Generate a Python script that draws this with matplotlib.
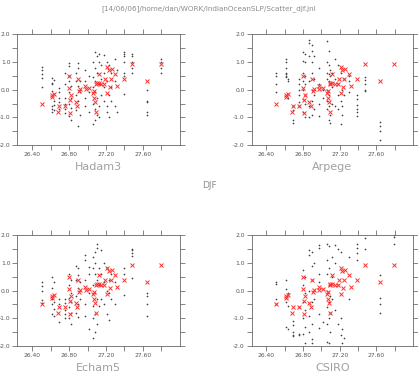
import numpy as np
import matplotlib
matplotlib.use("Agg")
import matplotlib.pyplot as plt

# observed DJF SST (x) vs SLP index (y) - same red crosses on every panel
obs_sst = [26.51, 26.62, 26.62, 26.64, 26.68, 26.69, 26.76, 26.80, 26.80, 26.81,
           26.82, 26.81, 26.87, 26.89, 26.90, 26.91, 26.92, 26.97, 26.98, 27.02,
           27.06, 27.07, 27.07, 27.08, 27.09, 27.09, 27.10, 27.12, 27.12, 27.15,
           27.18, 27.19, 27.21, 27.21, 27.23, 27.24, 27.25, 27.26, 27.30, 27.32,
           27.39, 27.48, 27.64, 27.79]
obs_slp = [-0.50, -0.19, -0.28, -0.16, -0.81, -0.58, -0.58, 0.48, 0.07, -0.85,
           -0.20, -0.37, -0.46, -0.58, 0.38, -0.06, 0.03, 0.12, 0.02, 0.05,
           -0.13, -0.05, -0.30, -0.45, -0.82, 0.19, 0.23, 0.25, 0.58, 0.22,
           0.21, 0.38, -0.12, 0.82, 0.72, 0.10, 0.38, 0.75, 0.56, 0.13,
           0.37, 0.92, 0.32, 0.92]

# model ensemble members, one list per SST column
col_sst = [26.51, 26.62, 26.64, 26.69, 26.76, 26.80, 26.82, 26.87, 26.90, 26.92,
           26.97, 27.02, 27.06, 27.08, 27.10, 27.12, 27.15, 27.18, 27.21, 27.23,
           27.25, 27.30, 27.32, 27.39, 27.48, 27.64, 27.79]

hadam3 = [[0.83, 0.7, 0.55, 0.42, 0.08], [0.42, 0.25, 0.2, -0.05, -0.6, -0.7, -0.8],
          [0.35, -0.4, -0.55, -0.75], [0.05, -0.1, -0.3, -0.45, -0.7],
          [0.6, 0.2, -0.3, -0.5, -0.7, -0.85], [0.95, 0.85, 0.5, 0.3, -0.1, -0.5, -0.95],
          [0.15, -0.3, -0.65, -1.1], [0.6, 0.3, -0.2, -0.75], [0.95, 0.8, 0.15, -0.4, -1.3],
          [0.3, -0.1, -0.9], [0.7, 0.3, -0.3, -0.6], [0.5, -0.1, -0.8],
          [1.0, 0.45, 0.1, -0.5, -1.25], [1.35, 0.8, 0.3, -0.1, -0.7, -1.1],
          [1.2, 0.6, -0.3, -0.9], [1.3, 1.0, 0.2, -0.6, -1.0], [0.9, 0.4, -0.2],
          [1.25, 0.6, 0.1, -0.4], [1.0, 0.3, -0.6, -0.8], [0.9, -0.2, -1.0],
          [0.6, 0.1, -0.4], [1.1, 0.3, -0.6], [0.7, -0.8],
          [1.35, 1.3, 1.2, 1.0, 0.6, 0.5, -0.15], [1.3, 1.2, 1.0, 0.8, 0.6],
          [0.0, -0.4, -0.45, -0.8, -0.9], [1.1, 1.0, 0.8, 0.6]]

arpege = [[0.6, 0.5, 0.2, -0.1], [1.1, 1.0, 0.8, 0.6, 0.55, 0.5, 0.45], [0.4, 0.3, -0.3],
          [-0.6, -0.75, -1.1, -1.2], [0.4, 0.2, 0.0, -0.2, -0.45, -0.6],
          [1.35, 1.05, 0.6, 0.3, 0.0, -0.35, -0.8], [1.3, 1.0, 0.5, 0.2, -0.2, -0.5, -1.0],
          [1.8, 1.7, 1.2, 0.3, -0.6, -1.0], [1.6, 1.4, 1.0, 0.6, 0.0, -0.4, -0.9],
          [1.2, 0.4, -0.2, -0.7], [0.8, 0.2, -0.5, -0.95], [0.0, -0.3],
          [1.75, 1.0, 0.6, 0.4, 0.0, -0.4, -0.7], [1.4, 0.9, 0.55, 0.3, -0.2, -0.6, -1.1],
          [0.7, 0.5, 0.2, -0.9, -1.2], [0.6, 0.1, -0.5], [1.1, 0.4, -0.6],
          [0.9, 0.2, -0.2, -0.7], [0.6, -0.4, -1.25], [0.0, -0.6, -0.9], [0.4, -0.2],
          [0.5, 0.3, -0.1], [], [-0.2, -0.35, -0.55, -0.7, -0.8, -0.95],
          [0.45, 0.35, 0.2, 0.0, -0.05], [-1.15, -1.3, -1.5, -1.8], []]

echam5 = [[0.3, 0.15, 0.0, -0.35, -0.45], [0.5, 0.1, -0.3, -0.5, -0.85],
          [0.3, -0.4, -0.65, -0.9], [-0.3, -0.5, -1.15], [-0.3, -0.45, -0.7, -0.85, -1.0],
          [0.6, 0.2, -0.25, -0.6, -1.0], [0.4, -0.1, -0.4, -0.8, -1.2],
          [0.9, 0.4, -0.2, -0.8], [0.8, 0.55, 0.1, -0.5, -0.95], [0.3, -0.3],
          [1.3, 1.1, 0.4, -0.5, -0.9], [0.85, 0.6, -0.1, -1.4],
          [1.2, 0.8, 0.2, -0.55, -1.0, -1.7], [1.4, 1.0, 0.6, -0.1, -0.85, -1.5],
          [1.7, 1.55, 0.4, -0.3, -1.2], [0.8, 0.2, -0.55], [1.45, 0.6, -0.3],
          [1.0, 0.3, -0.5], [0.8, 0.0, -0.85], [0.4, -0.1, -1.05], [0.6, -0.3],
          [0.3, -0.5], [], [0.8, 0.6, -0.15], [1.5, 1.45, 1.35, 1.25, 0.45],
          [-0.1, -0.2, -0.5, -0.9], []]

csiro = [[0.3, 0.25, -0.3, -0.5], [0.4, 0.05, -0.4, -1.3], [-0.1, -0.55, -1.4],
         [-1.1, -1.25, -1.5, -1.6, -1.65], [-0.6, -1.55, -1.6],
         [0.75, 0.2, -0.4, -1.0, -1.55], [0.5, -0.1, -0.7, -1.3, -1.9],
         [1.45, 1.3, 0.0, -0.9, -1.5], [1.4, 0.9, 0.4, -0.4, -1.2, -1.75, -1.9],
         [1.0, -0.3], [1.65, 1.55, 0.6, 0.3, -0.85, -1.35], [-1.15],
         [1.7, 1.1, 0.6, 0.0, -0.6, -1.2, -1.85], [1.6, 0.8, 0.2, -0.4, -1.0, -1.9],
         [-0.2, -0.8, -1.5], [1.2, 0.5, -0.3], [1.65, 1.0, -0.7], [1.5, 0.2, -1.2],
         [1.4, -1.0, -1.6], [-1.4, -1.9], [-1.7], [1.2, -0.3], [],
         [1.7, 1.55, 1.35, 1.1], [1.9, 1.5], [0.55, -0.25, -0.5, -0.8], [2.0, 1.95, 1.7]]

model_names = ["Hadam3", "Arpege", "Echam5", "CSIRO"]
model_data = [hadam3, arpege, echam5, csiro]

x_ticks = [26.4, 26.6, 26.8, 27.0, 27.2, 27.4, 27.6, 27.8]
x_ticklabels = ["26.40", "", "26.80", "", "27.20", "", "27.60", ""]
y_ticks = [-2.0, -1.5, -1.0, -0.5, 0.0, 0.5, 1.0, 1.5, 2.0]
y_ticklabels = ["-2.0", "", "-1.0", "", "0.0", "", "1.0", "", "2.0"]

header = "[14/06/06]/home/dan/WORK/IndianOceanSLP/Scatter_djf.jnl"
season = "DJF"

grey = "#8c8c8c"
axes_pos = [[0.0414, 0.611, 0.389, 0.297],
            [0.602, 0.611, 0.386, 0.297],
            [0.0414, 0.0724, 0.389, 0.297],
            [0.602, 0.0724, 0.386, 0.297]]

fig = plt.figure(figsize=(4.18, 3.73), dpi=100)

for pos, name, data in zip(axes_pos, model_names, model_data):
    ax = fig.add_axes(pos)

    xs = []
    ys = []
    for x, col in zip(col_sst, data):
        xs.extend([x] * len(col))
        ys.extend(col)
    ax.plot(xs, ys, linestyle="none", marker="+", markersize=1.6,
            markeredgewidth=0.45, color="#444444")
    ax.plot(obs_sst, obs_slp, linestyle="none", marker="x", markersize=3.0,
            markeredgewidth=0.7, color="#ff3030")

    ax.set_xlim(26.24, 28.0)
    ax.set_ylim(-2.0, 2.0)
    ax.set_xticks(x_ticks)
    ax.set_xticklabels(x_ticklabels)
    ax.set_yticks(y_ticks)
    ax.set_yticklabels(y_ticklabels)
    ax.tick_params(direction="out", length=3.5, width=0.5, colors="#555555",
                   labelsize=4.3, labelcolor="#555555", pad=1.5,
                   top=True, right=True)
    for s in ax.spines.values():
        s.set_linewidth(0.6)
        s.set_color("#666666")

    fig.text(pos[0] + pos[2] / 2, pos[1] - 0.046, name, ha="center", va="top",
             fontsize=8, color="#a0a0a0")

fig.text(0.5, 0.504, season, ha="center", va="center", fontsize=6.5, color=grey)
fig.text(0.5, 0.985, header, ha="center", va="top", fontsize=5.2, color=grey)

fig.savefig("out.png", dpi=100)
